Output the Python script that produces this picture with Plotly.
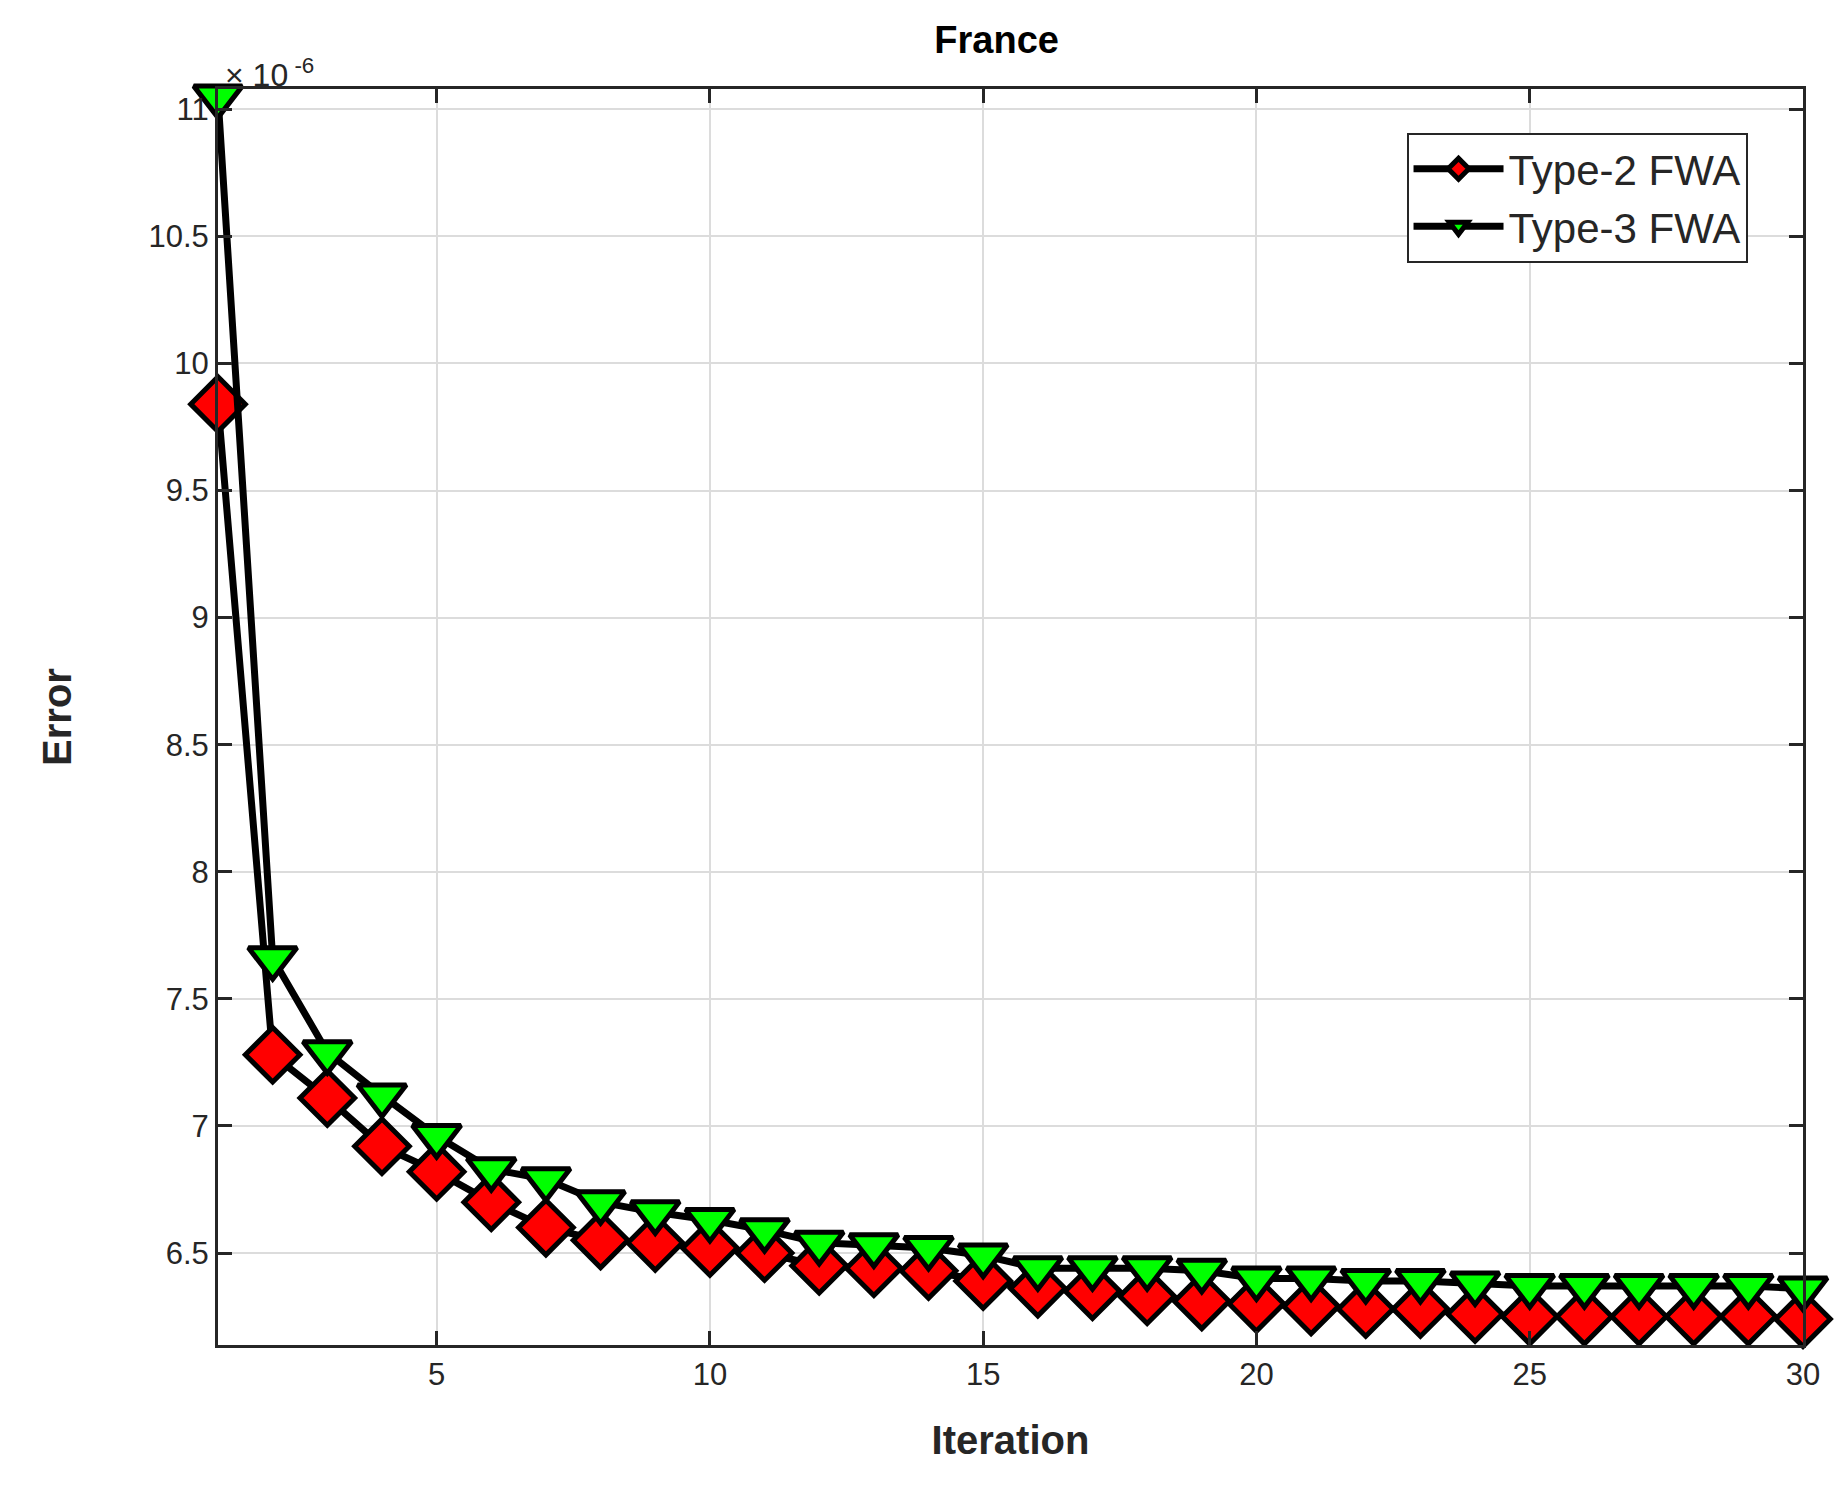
import plotly.graph_objects as go

iterations = list(range(1, 31))
type2 = [9.84, 7.28, 7.11, 6.92, 6.82, 6.70, 6.60, 6.55, 6.54, 6.52, 6.50, 6.45, 6.44, 6.43, 6.39,
         6.36, 6.35, 6.33, 6.31, 6.30, 6.29, 6.28, 6.28, 6.26, 6.25, 6.25, 6.25, 6.25, 6.25, 6.24]
type3 = [11.05, 7.66, 7.29, 7.12, 6.96, 6.83, 6.79, 6.70, 6.66, 6.63, 6.59, 6.54, 6.53, 6.52, 6.49,
         6.44, 6.44, 6.44, 6.43, 6.40, 6.40, 6.39, 6.39, 6.38, 6.37, 6.37, 6.37, 6.37, 6.37, 6.36]
x_ticks = [5, 10, 15, 20, 25, 30]
y_ticks = [6.5, 7, 7.5, 8, 8.5, 9, 9.5, 10, 10.5, 11]

fig = go.Figure()
fig.add_trace(go.Scatter(x=iterations, y=type2, name="Type-2 FWA", mode="lines+markers",
                         cliponaxis=False,
                         line=dict(color="black", width=7),
                         marker=dict(symbol="diamond", size=42, color="#ff0000",
                                     line=dict(color="black", width=5))))
fig.add_trace(go.Scatter(x=iterations, y=type3, name="Type-3 FWA", mode="lines+markers",
                         cliponaxis=False,
                         line=dict(color="black", width=7),
                         marker=dict(symbol="triangle-down", size=42, color="#00ff00",
                                     line=dict(color="black", width=5))))

axis_common = dict(showline=True, linecolor="#262626", linewidth=3, mirror="ticks",
                   ticks="inside", ticklen=14, tickwidth=3, tickcolor="#262626",
                   showgrid=True, gridcolor="#dcdcdc", gridwidth=2, zeroline=False,
                   tickfont=dict(size=31, color="#262626", family="Liberation Sans"))
fig.update_xaxes(range=[1, 30], tickvals=x_ticks,
                 title=dict(text="<b>Iteration</b>", font=dict(size=40, color="#262626"), standoff=35),
                 **axis_common)
fig.update_yaxes(range=[6.138, 11.08], tickvals=y_ticks, ticktext=[str(v) for v in y_ticks],
                 title=dict(text="<b>Error</b>", font=dict(size=40, color="#262626"), standoff=65),
                 **axis_common)

fig.update_layout(
    width=1848, height=1496, plot_bgcolor="white", paper_bgcolor="white",
    font=dict(family="Liberation Sans", color="#262626"),
    margin=dict(l=210, r=53, t=81, b=159),
    title=dict(text="<b>France</b>", x=0.535, xanchor="center", y=0.988, yanchor="top",
               font=dict(size=38, color="black")),
    legend=dict(x=0.965, y=0.965, xanchor="right", yanchor="top", bgcolor="white",
                bordercolor="#262626", borderwidth=2, font=dict(size=42, color="#262626"),
                itemwidth=90, tracegroupgap=30),
    annotations=[dict(x=0, y=1.0, xref="paper", yref="paper", xanchor="left", yanchor="bottom",
                      text="× 10<sup> -6</sup>", showarrow=False, yshift=-6, xshift=5,
                      font=dict(size=32, color="#262626"))],
    showlegend=True,
)
fig.write_html("out.html")
